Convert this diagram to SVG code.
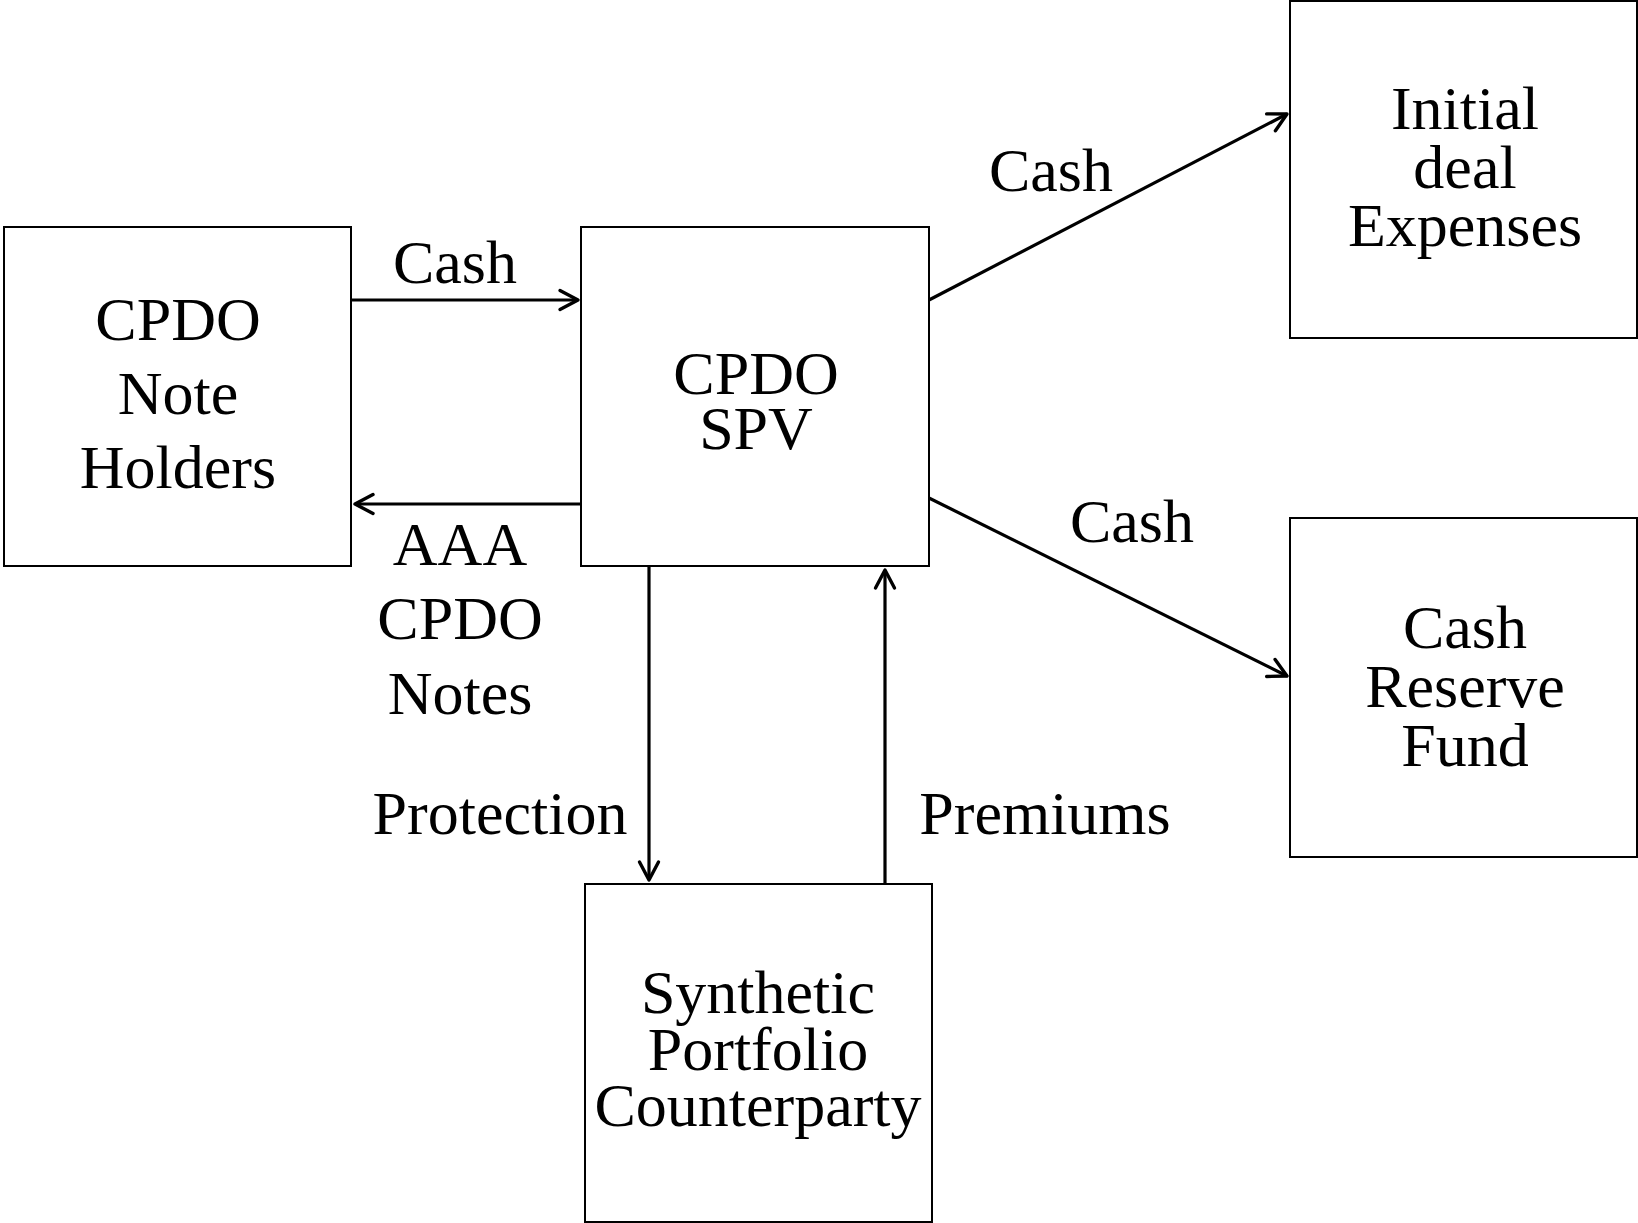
<svg xmlns="http://www.w3.org/2000/svg" width="1638" height="1223" viewBox="0 0 1638 1223">
<style>
.box{fill:#fff;stroke:#000;stroke-width:2}
.t{font-family:"Liberation Serif","Times New Roman",serif;font-size:62px;fill:#000;text-anchor:middle}
.c{stroke:#000;stroke-width:3.2;fill:none}
</style>
<defs>
<marker id="ah" markerWidth="26" markerHeight="26" refX="20" refY="11" orient="auto" markerUnits="userSpaceOnUse" overflow="visible">
<path d="M2,1.5 L20,11 L2,20.5" fill="none" stroke="#000" stroke-width="3.4" stroke-linejoin="round" stroke-linecap="round"/>
</marker>
</defs>
<rect width="1638" height="1223" fill="#fff"/>
<g id="connectors">
<line class="c" x1="351" y1="300" x2="578" y2="300" marker-end="url(#ah)"/>
<line class="c" x1="581" y1="504" x2="355" y2="504" marker-end="url(#ah)"/>
<line class="c" x1="929" y1="300" x2="1287" y2="114" marker-end="url(#ah)"/>
<line class="c" x1="929" y1="498" x2="1287" y2="676" marker-end="url(#ah)"/>
<line class="c" x1="649" y1="566" x2="649" y2="880" marker-end="url(#ah)"/>
<line class="c" x1="885" y1="884" x2="885" y2="570" marker-end="url(#ah)"/>
<text class="t" x="455" y="283">Cash</text>
<text class="t" x="460" y="565">AAA</text>
<text class="t" x="460" y="639">CPDO</text>
<text class="t" x="460" y="714">Notes</text>
<text class="t" x="1051" y="191">Cash</text>
<text class="t" x="1132" y="542">Cash</text>
<text class="t" x="500" y="834">Protection</text>
<text class="t" x="1045" y="834">Premiums</text>
</g>
<g id="note-holders">
<rect class="box" x="4" y="227" width="347" height="339"/>
<text class="t" x="178" y="340">CPDO</text>
<text class="t" x="178" y="414">Note</text>
<text class="t" x="178" y="488">Holders</text>
</g>
<g id="cpdo-spv">
<rect class="box" x="581" y="227" width="348" height="339"/>
<text class="t" x="756" y="394">CPDO</text>
<text class="t" x="756" y="449">SPV</text>
</g>
<g id="initial-deal-expenses">
<rect class="box" x="1290" y="1" width="347" height="337"/>
<text class="t" x="1465" y="129">Initial</text>
<text class="t" x="1465" y="188">deal</text>
<text class="t" x="1465" y="246">Expenses</text>
</g>
<g id="cash-reserve-fund">
<rect class="box" x="1290" y="518" width="347" height="339"/>
<text class="t" x="1465" y="648">Cash</text>
<text class="t" x="1465" y="707">Reserve</text>
<text class="t" x="1465" y="766">Fund</text>
</g>
<g id="synthetic-portfolio-counterparty">
<rect class="box" x="585" y="884" width="347" height="338"/>
<text class="t" x="758" y="1013">Synthetic</text>
<text class="t" x="758" y="1070">Portfolio</text>
<text class="t" x="758" y="1126">Counterparty</text>
</g>
</svg>
